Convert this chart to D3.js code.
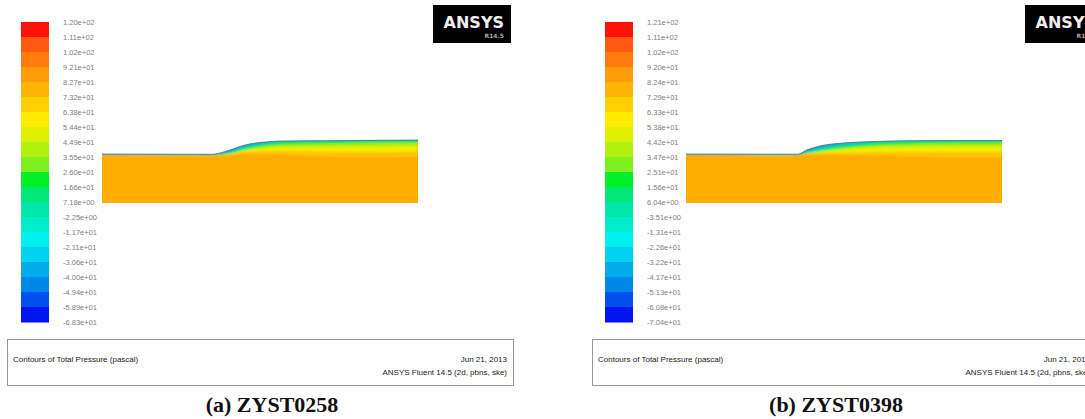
<!DOCTYPE html>
<html>
<head>
<meta charset="utf-8">
<script src="https://cdn.jsdelivr.net/npm/d3@7"></script>
<style>
  body { margin: 0; background: #fff; }
  svg { display: block; }
</style>
</head>
<body>
<div id="chart"></div>
<script>
// colour bar tick labels, top to bottom
const labelsA = ["1.20e+02", "1.11e+02", "1.02e+02", "9.21e+01", "8.27e+01", "7.32e+01", "6.38e+01",
    "5.44e+01", "4.49e+01", "3.55e+01", "2.60e+01", "1.66e+01", "7.18e+00", "-2.25e+00", "-1.17e+01",
    "-2.11e+01", "-3.06e+01", "-4.00e+01", "-4.94e+01", "-5.89e+01", "-6.83e+01"];
const labelsB = ["1.21e+02", "1.11e+02", "1.02e+02", "9.20e+01", "8.24e+01", "7.29e+01", "6.33e+01",
    "5.38e+01", "4.42e+01", "3.47e+01", "2.51e+01", "1.56e+01", "6.04e+00", "-3.51e+00", "-1.31e+01",
    "-2.26e+01", "-3.22e+01", "-4.17e+01", "-5.13e+01", "-6.08e+01", "-7.04e+01"];

// fluent colour map bands, top (max) to bottom (min)
const bandColors = ["#ff1208", "#ff5a10", "#ff7c0c", "#ff9a08", "#ffb404", "#ffd000", "#ffec00",
    "#def000", "#b2f010", "#80ef20", "#00f028", "#00e878", "#00e8a8", "#00eccc", "#00f0f0",
    "#00d2f0", "#00acea", "#0088e8", "#0050f0", "#0014f0"];

// free surface profile (x along channel, elevation above bed), model units
const stationsA = [0, 11.0, 12.6, 14.3, 16.0, 18.0, 22.6, 27.0, 31.6];
const surfaceA = [4.9, 4.87, 5.23, 5.8, 6.07, 6.2, 6.23, 6.27, 6.3];
const stationsB = [0, 11.1, 12.0, 13.3, 15.3, 18.0, 22.6, 27.0, 31.4];
const surfaceB = [4.9, 4.88, 5.3, 5.7, 5.97, 6.13, 6.23, 6.25, 6.25];

// low-pressure layers under the surface: depth of each contour below the surface
const layerColors = ["#ffc400", "#f2ee00", "#aef000", "#14ea50", "#00d8b4", "#2098d0"];
const layersA = [
    [0.15, 0.15, 0.5, 0.9, 1.2, 1.4, 1.6, 1.7, 1.7],
    [0.1, 0.1, 0.4, 0.7, 0.9, 1.0, 1.1, 1.15, 1.15],
    [0.08, 0.08, 0.35, 0.55, 0.6, 0.6, 0.6, 0.6, 0.6],
    [0.06, 0.06, 0.32, 0.47, 0.44, 0.38, 0.32, 0.3, 0.3],
    [0.05, 0.05, 0.28, 0.34, 0.24, 0.1, 0.03, 0, 0],
    [0.04, 0.04, 0.14, 0.14, 0.07, 0, 0, 0, 0]
];
const layersB = [
    [0.15, 0.15, 0.5, 0.9, 1.2, 1.4, 1.6, 1.7, 1.7],
    [0.1, 0.1, 0.4, 0.75, 0.95, 1.05, 1.1, 1.15, 1.15],
    [0.08, 0.08, 0.35, 0.6, 0.65, 0.6, 0.6, 0.6, 0.6],
    [0.06, 0.06, 0.32, 0.52, 0.52, 0.42, 0.35, 0.3, 0.3],
    [0.05, 0.05, 0.3, 0.44, 0.34, 0.17, 0.05, 0, 0],
    [0.04, 0.04, 0.16, 0.16, 0.09, 0.02, 0, 0, 0]
];

const captions = ["(a) ZYST0258", "(b) ZYST0398"];

const width = 1085;
const height = 419;

// layout of the two screenshots (the second one runs past the page edge)
const panels = [
    { off: 0, boxLeft: 7, boxRight: 513, logoX: 433, capX: 272, labels: labelsA, stations: stationsA, surface: surfaceA, layers: layersA },
    { off: 584, boxLeft: 592, boxRight: 1096, logoX: 1025, capX: 836, labels: labelsB, stations: stationsB, surface: surfaceB, layers: layersB }
];

const svg = d3.select("#chart")
    .append("svg")
    .attr("width", width)
    .attr("height", height);

const defs = svg.append("defs");
defs.append("filter")
    .attr("id", "soft")
    .attr("x", "-5%").attr("y", "-20%").attr("width", "110%").attr("height", "140%")
    .append("feGaussianBlur")
    .attr("stdDeviation", 0.9);

panels.forEach((p, pi) => {
    const g = svg.append("g");

    // colour bar
    const yBar = d3.scalePoint()
        .domain(d3.range(p.labels.length))
        .range([22, 322]);

    g.selectAll("rect.band")
        .data(bandColors)
        .enter()
        .append("rect")
        .attr("class", "band")
        .attr("x", p.off + 21)
        .attr("y", (d, i) => yBar(i))
        .attr("width", 28)
        .attr("height", (d, i) => yBar(i + 1) - yBar(i) + 0.5)
        .attr("fill", d => d);

    g.selectAll("text.tick")
        .data(p.labels)
        .enter()
        .append("text")
        .attr("class", "tick")
        .attr("x", p.off + 63)
        .attr("y", (d, i) => yBar(i))
        .attr("dy", "0.35em")
        .attr("font-family", "Liberation Sans, Arial, sans-serif")
        .attr("font-size", 7.5)
        .attr("fill", "#808080")
        .text(d => d);

    // contour domain
    const xScale = d3.scaleLinear()
        .domain([0, d3.max(p.stations)])
        .range([p.off + 102, p.off + 418]);
    const yScale = d3.scaleLinear()
        .domain([0, 6.3])
        .range([203, 140]);

    const pts = p.stations.map((x, i) => ({ x: x, s: p.surface[i], i: i }));
    const clipId = "clip" + pi;

    const body = d3.area()
        .x(d => xScale(d.x))
        .y0(yScale(0))
        .y1(d => yScale(d.s))
        .curve(d3.curveMonotoneX);

    defs.append("clipPath")
        .attr("id", clipId)
        .append("path")
        .attr("d", body(pts));

    g.append("path")
        .attr("d", body(pts))
        .attr("fill", "#ffab00");

    const layerG = g.append("g")
        .attr("clip-path", `url(#${clipId})`)
        .append("g")
        .attr("filter", "url(#soft)");

    p.layers.forEach((depths, li) => {
        const band = d3.area()
            .x(d => xScale(d.x))
            .y0(d => yScale(d.s - depths[d.i]))
            .y1(d => yScale(d.s) - 2)
            .curve(d3.curveMonotoneX);
        layerG.append("path")
            .attr("d", band(pts))
            .attr("fill", layerColors[li]);
    });

    // thin outline on the free surface
    g.append("path")
        .attr("d", d3.line().x(d => xScale(d.x)).y(d => yScale(d.s)).curve(d3.curveMonotoneX)(pts))
        .attr("fill", "none")
        .attr("stroke", "#3a7890")
        .attr("stroke-width", 0.8);

    // ANSYS logo
    g.append("rect")
        .attr("x", p.logoX)
        .attr("y", 5)
        .attr("width", 78)
        .attr("height", 38)
        .attr("fill", "#000");
    g.append("text")
        .attr("x", p.logoX + 71)
        .attr("y", 28)
        .attr("text-anchor", "end")
        .attr("font-family", "DejaVu Sans, sans-serif")
        .attr("font-weight", "bold")
        .attr("font-size", 16)
        .attr("fill", "#f0f0f0")
        .text("ANSYS");
    g.append("text")
        .attr("x", p.logoX + 71)
        .attr("y", 38)
        .attr("text-anchor", "end")
        .attr("font-family", "DejaVu Sans, sans-serif")
        .attr("font-weight", "bold")
        .attr("font-size", 6)
        .attr("fill", "#aaa")
        .text("R14.5");

    // title box
    g.append("rect")
        .attr("x", p.boxLeft + 0.5)
        .attr("y", 339.5)
        .attr("width", p.boxRight - p.boxLeft)
        .attr("height", 46)
        .attr("fill", "#fff")
        .attr("stroke", "#999")
        .attr("stroke-width", 1);
    g.append("text")
        .attr("x", p.boxLeft + 6)
        .attr("y", 362)
        .attr("font-family", "Liberation Sans, Arial, sans-serif")
        .attr("font-size", 8)
        .attr("fill", "#222")
        .text("Contours of Total Pressure (pascal)");
    g.append("text")
        .attr("x", p.boxRight - 6)
        .attr("y", 362)
        .attr("text-anchor", "end")
        .attr("font-family", "Liberation Sans, Arial, sans-serif")
        .attr("font-size", 8)
        .attr("fill", "#222")
        .text("Jun 21, 2013");
    g.append("text")
        .attr("x", p.boxRight - 6)
        .attr("y", 375)
        .attr("text-anchor", "end")
        .attr("font-family", "Liberation Sans, Arial, sans-serif")
        .attr("font-size", 8)
        .attr("fill", "#222")
        .text("ANSYS Fluent 14.5 (2d, pbns, ske)");

    // caption
    svg.append("text")
        .attr("x", p.capX)
        .attr("y", 412)
        .attr("text-anchor", "middle")
        .attr("font-family", "Liberation Serif, Times New Roman, serif")
        .attr("font-weight", "bold")
        .attr("font-size", 22)
        .attr("fill", "#111")
        .text(captions[pi]);
});
</script>
</body>
</html>
